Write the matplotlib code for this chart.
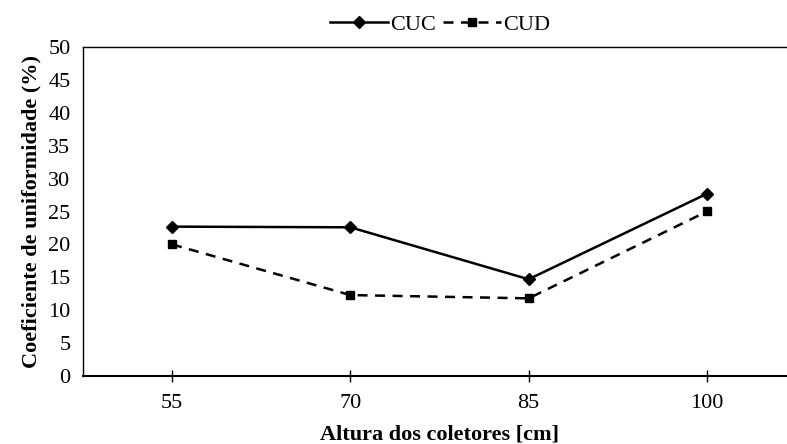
import matplotlib
matplotlib.use("Agg")
import matplotlib.pyplot as plt

categories = ["55", "70", "85", "100"]
cuc = [22.7, 22.6, 14.7, 27.7]
cud = [20.0, 12.3, 11.8, 25.0]
yticks = [0, 5, 10, 15, 20, 25, 30, 35, 40, 45, 50]

plt.rcParams['font.family'] = ['Liberation Serif', 'DejaVu Serif']

fig = plt.figure(figsize=(7.87, 4.44), dpi=100)
ax = fig.add_axes([83/787, 1-376/444, 713/787, 329/444])

x = list(range(len(categories)))
ax.plot(x, cuc, color='black', linewidth=1.8, marker='D', markersize=6.5,
        label='CUC')
ax.plot(x, cud, color='black', linewidth=1.8, linestyle=(0, (4, 3)),
        marker='s', markersize=6, label='CUD')

ax.set_xlim(-0.5, len(categories) - 0.5)
ax.set_ylim(0, 50)
ax.set_xticks(x)
ax.set_xticklabels(categories)
ax.set_yticks(yticks)
ax.set_yticklabels([str(v) for v in yticks])

for s in ['left', 'top', 'right', 'bottom']:
    ax.spines[s].set_color('black')
    ax.spines[s].set_linewidth(1.0)
ax.spines['bottom'].set_linewidth(1.5)

ax.tick_params(axis='x', direction='inout', length=8, width=1.0,
               labelsize=16, pad=9)
ax.tick_params(axis='y', length=0, labelsize=16, pad=9)

ax.set_xlabel('Altura dos coletores [cm]', fontsize=16, fontweight='bold',
              labelpad=8)
ax.set_ylabel('Coeficiente de uniformidade (%)', fontsize=16,
              fontweight='bold', labelpad=5)

leg = fig.legend(loc='center', bbox_to_anchor=(440/787, 1-25/444), ncol=2,
                 frameon=False, fontsize=16, handlelength=2.6,
                 handletextpad=0.1, columnspacing=0.3)

fig.savefig('out.png', dpi=100)
